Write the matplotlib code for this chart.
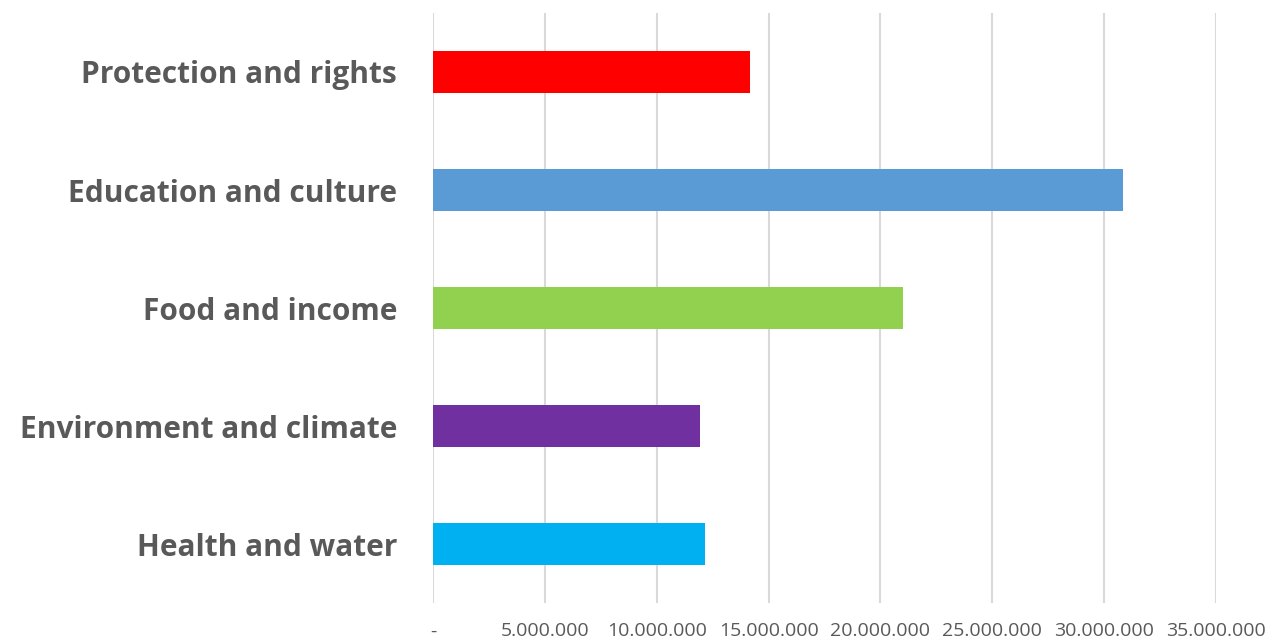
import matplotlib
matplotlib.use("Agg")
import matplotlib.pyplot as plt
from matplotlib.ticker import FuncFormatter

categories = ["Health and water", "Environment and climate", "Food and income",
              "Education and culture", "Protection and rights"]
values = [12_170_000, 11_920_000, 21_020_000, 30_850_000, 14_180_000]
colors = ["#00b0f0", "#7030a0", "#92d050", "#5b9bd5", "#ff0000"]
xticks = [0, 5_000_000, 10_000_000, 15_000_000, 20_000_000, 25_000_000, 30_000_000, 35_000_000]

fig = plt.figure(figsize=(12.73, 6.43), dpi=100)
ax = fig.add_axes([433/1273, 40/643, (1216-433)/1273, (603-13)/643])

ax.barh(range(len(categories)), values, height=0.355, color=colors, zorder=3)
ax.set_ylim(-0.5, len(categories) - 0.5)
ax.set_xlim(0, 35_000_000)
ax.set_xticks(xticks)

def fmt(v, pos):
    if v == 0:
        return "-"
    return f"{int(v):,}".replace(",", ".")

ax.xaxis.set_major_formatter(FuncFormatter(fmt))
ax.set_yticks(range(len(categories)))
ax.set_yticklabels(categories, fontfamily="Open Sans", fontweight="bold",
                   fontsize=21.5, color="#595959")
for lbl in ax.get_xticklabels():
    lbl.set_fontfamily("Open Sans")
    lbl.set_fontsize(14)
    lbl.set_color("#595959")

ax.grid(axis="x", color="#d9d9d9", linewidth=1.5, zorder=0)
ax.tick_params(axis="x", length=0, pad=14)
ax.tick_params(axis="y", length=0, pad=26)
for s in ax.spines.values():
    s.set_visible(False)

fig.savefig("out.png", dpi=100)
